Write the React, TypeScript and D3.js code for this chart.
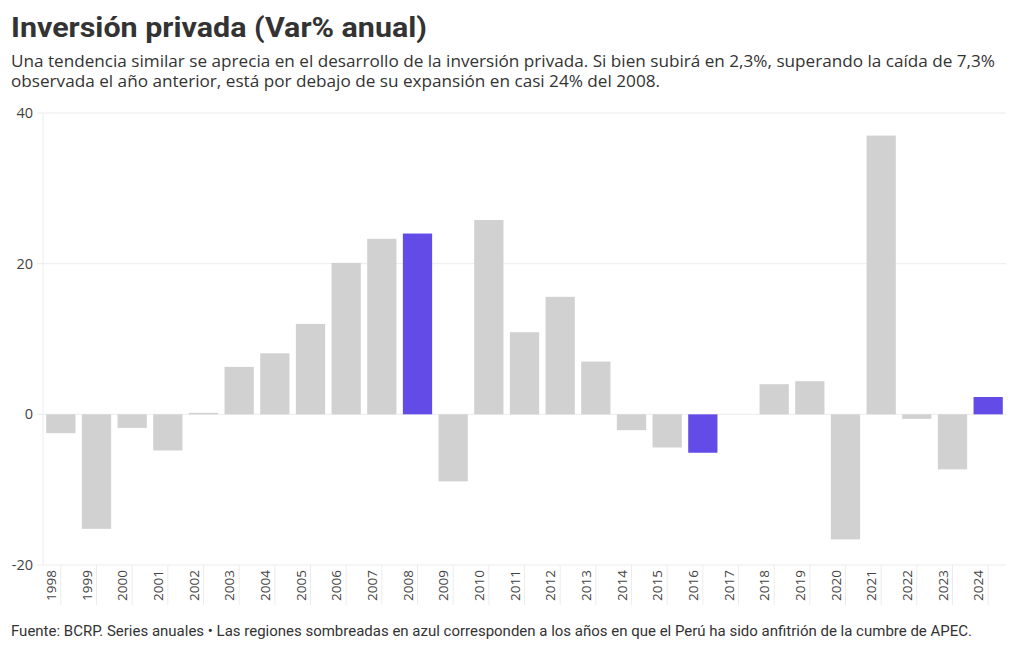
import React from "react";
import * as d3 from "d3";

const years = ["1998","1999","2000","2001","2002","2003","2004","2005","2006","2007","2008","2009","2010","2011","2012","2013","2014","2015","2016","2017","2018","2019","2020","2021","2022","2023","2024"];
const values = [-2.5,-15.2,-1.8,-4.8,0.2,6.3,8.1,12.0,20.1,23.3,24.0,-8.9,25.8,10.9,15.6,7.0,-2.1,-4.4,-5.1,0,4.0,4.4,-16.6,37.0,-0.6,-7.3,2.3];
const apecYears = ["2008","2016","2024"];
const yTicks = [-20, 0, 20, 40];

const title = "Inversión privada (Var% anual)";
const subtitle1 = "Una tendencia similar se aprecia en el desarrollo de la inversión privada. Si bien subirá en 2,3%, superando la caída de 7,3%";
const subtitle2 = "observada el año anterior, está por debajo de su expansión en casi 24% del 2008.";
const footer = "Fuente: BCRP. Series anuales • Las regiones sombreadas en azul corresponden a los años en que el Perú ha sido anfitrión de la cumbre de APEC.";

export default function App() {
  const W = 1020, H = 650;
  const left = 43, right = 1006, top = 113, bottom = 565;
  const x = d3.scaleBand<string>().domain(years).range([left, right]).paddingInner(0.18).paddingOuter(0.09);
  const y = d3.scaleLinear().domain([-20, 40]).range([bottom, top]);
  const font = "'Open Sans', Roboto, sans-serif";
  return (
    <svg width={W} height={H} style={{ position: "absolute", left: 0, top: 0, background: "#fff" }} fontFamily={font}>
      <text x={11} y={37} fontSize={28} fontWeight={700} fill="#333" fontFamily="Roboto, sans-serif" textLength={416} lengthAdjust="spacingAndGlyphs">{title}</text>
      <text x={11} y={67} fontSize={16} fill="#333" textLength={984} lengthAdjust="spacingAndGlyphs">{subtitle1}</text>
      <text x={11} y={87} fontSize={16} fill="#333" textLength={649} lengthAdjust="spacingAndGlyphs">{subtitle2}</text>
      {yTicks.map(t => (
        <g key={t}>
          <line x1={37} x2={right} y1={y(t)} y2={y(t)} stroke="#ececec" strokeWidth={1} />
          <text x={33} y={y(t) + 5} textAnchor="end" fontSize={14.5} fill="#444">{t}</text>
        </g>
      ))}
      <line x1={left} x2={left} y1={top} y2={bottom} stroke="#ececec" />
      {years.map((yr) => {
        const cx = (x(yr) as number) + x.bandwidth() / 2;
        return (
          <g key={yr}>
            <line x1={cx} x2={cx} y1={bottom} y2={605} stroke="#ececec" />
            <text transform={`translate(${cx - 5},${570}) rotate(-90)`} textAnchor="end" fontSize={13.5} fill="#444">{yr}</text>
          </g>
        );
      })}
      {years.map((yr, i) => {
        const v = values[i];
        const y0 = y(Math.max(0, v));
        const h = Math.abs(y(v) - y(0));
        return (
          <rect key={yr} x={x(yr)} y={y0} width={x.bandwidth()} height={h}
            fill={apecYears.includes(yr) ? "#634be8" : "#d1d1d1"} />
        );
      })}
      <text x={11} y={636} fontSize={14.5} fill="#333" fontFamily="Roboto, sans-serif" textLength={961} lengthAdjust="spacingAndGlyphs">{footer}</text>
    </svg>
  );
}
